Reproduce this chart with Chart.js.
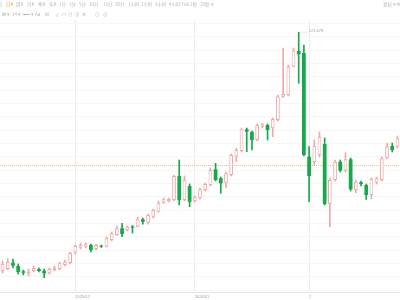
<!DOCTYPE html>
<html><head><meta charset="utf-8">
<script src="https://cdn.jsdelivr.net/npm/chart.js@4/dist/chart.umd.min.js"></script>
<style>
html,body{margin:0;padding:0;background:#fff;overflow:hidden}
#wrap{position:relative;width:400px;height:300px}
#c{position:absolute;left:0;top:0}
#bar{position:absolute;left:0;top:0;width:800px;height:40px;transform:scale(0.5);transform-origin:0 0;font-family:"Noto Sans CJK SC","Noto Sans",sans-serif;font-size:9px;color:#b8b8b8;white-space:nowrap}
#bar span{position:absolute;line-height:1}
</style></head>
<body><div id="wrap"><canvas id="c" width="400" height="300"></canvas><div id="bar"></div></div>
<script>
const dates = [
'2025-11-11','2025-11-12','2025-11-13','2025-11-14','2025-11-17','2025-11-18','2025-11-19','2025-11-20','2025-11-21','2025-11-24','2025-11-25','2025-11-26','2025-11-27','2025-11-28',
'2025-12-01','2025-12-02','2025-12-03','2025-12-04','2025-12-05','2025-12-08','2025-12-09','2025-12-10','2025-12-11','2025-12-12','2025-12-15','2025-12-16','2025-12-17','2025-12-18','2025-12-19','2025-12-22','2025-12-23','2025-12-24','2025-12-25','2025-12-26','2025-12-29','2025-12-30','2025-12-31',
'2026-01-01','2026-01-02','2026-01-05','2026-01-06','2026-01-07','2026-01-08','2026-01-09','2026-01-12','2026-01-13','2026-01-14','2026-01-15','2026-01-16','2026-01-19','2026-01-20','2026-01-21','2026-01-22','2026-01-23','2026-01-26','2026-01-27','2026-01-28','2026-01-29','2026-01-30',
'2026-02-02','2026-02-03','2026-02-04','2026-02-05','2026-02-06','2026-02-09','2026-02-10','2026-02-11','2026-02-12','2026-02-13','2026-02-16','2026-02-17','2026-02-18','2026-02-19','2026-02-20','2026-02-23','2026-02-24','2026-02-25'];
const open = [32.13,32.88,35.24,34.00,32.01,31.38,32.13,32.88,32.24,31.26,32.50,32.88,34.38,35.13,
39.06,40.86,41.01,41.88,40.38,41.61,41.24,43.75,45.63,48.14,47.50,48.74,48.74,51.51,50.24,52.49,54.36,57.74,58.26,58.75,67.75,58.75,64.00,
58.38,59.39,62.50,64.38,70.26,66.89,65.01,68.13,75.06,77.13,85.26,84.25,81.25,86.24,86.88,85.64,88.75,97.49,98.13,108.74,114.63,113.88,
74.99,73.00,75.63,79.75,57.25,66.25,73.11,69.74,74.01,62.50,65.39,64.38,60.63,65.24,66.25,74.39,79.00,78.74];
const high = [35.88,36.63,36.63,34.75,32.50,32.88,34.00,33.25,32.88,33.25,34.00,35.50,36.25,39.25,
41.88,42.63,42.63,42.25,42.25,41.88,44.88,46.75,49.00,50.01,49.00,49.19,52.38,52.00,53.50,55.38,58.38,59.50,59.50,68.13,73.75,67.75,64.75,
60.25,63.25,65.13,70.75,72.51,67.38,69.25,76.00,78.14,85.75,85.75,84.63,87.25,87.44,87.25,89.50,98.13,115.75,109.38,115.75,121.678,116.88,
78.74,81.25,84.25,82.00,67.00,73.75,73.75,76.49,74.50,66.25,65.88,64.75,67.00,67.38,74.88,80.13,80.13,82.75];
const low = [31.38,32.50,33.25,31.00,30.63,30.25,31.75,31.75,29.61,31.00,32.13,32.50,34.00,34.75,
38.50,40.38,40.75,39.25,40.00,40.94,41.13,43.38,45.44,44.99,47.13,46.38,48.63,49.64,49.64,52.00,54.25,57.44,58.00,58.38,56.88,58.38,56.24,
58.00,59.13,62.13,64.00,65.88,61.26,63.25,67.75,73.11,76.75,76.86,77.50,80.88,85.75,81.25,82.49,88.38,97.19,97.75,108.63,102.51,75.25,
58.11,71.88,74.88,56.88,48.63,65.88,69.25,69.25,62.13,61.38,64.00,58.94,59.13,64.75,65.88,74.13,76.75,78.25];
const close = [34.75,35.50,34.11,31.75,31.49,32.31,33.25,32.13,31.26,32.88,33.36,35.24,35.61,38.88,
41.50,41.88,42.14,40.00,41.88,41.24,44.39,46.26,48.14,46.00,48.74,48.36,51.51,50.61,53.13,55.00,57.74,59.01,59.13,67.75,58.75,66.25,58.11,
59.76,62.76,64.75,70.00,66.25,65.01,68.76,75.63,77.50,85.26,84.36,81.25,86.88,87.14,85.00,89.13,97.56,98.50,108.74,114.81,113.39,75.63,
67.75,79.00,82.38,57.25,66.25,73.11,69.74,74.01,62.76,65.61,64.75,60.63,66.63,66.89,74.39,78.74,77.50,81.89];
const tickIdx = [14, 37, 59];
const tickText = ['2025/12', '2026/01', '2'];
const gridVals = [25,30,35,40,45,50,55,60,65,70,75,80,85,90,95,100,105,110,115,120,125];
const refPrice = 71.8;
const yMin = 24.25, yMax = 126.25;

// toolbar
const row1 = [['分时',-7],['日K',6,'#f0a040'],['周K',16],['月K',27],['季K',38],['年K',49],['1分',59],['3分',69],['5分',79],['10分',89],['15分',103],['30分',115],['1小时',128],['2小时',141],['3小时',155],['4小时',169],['Tick',181],['1秒',190],['10秒 ▾',200],['复权 ▾',383],['⚙',396]];
const row2 = [['⊞ ▾',2],['14 ▾',12],['⟵ ▾',23],['Aa',35],['⊟',45],['∠',55],['⊓',62],['⊖',68],['⊕',75],['⊜',82],['⊙',95],['⊘',103]];
const bar = document.getElementById('bar');
function addRow(items, y){ items.forEach(it=>{ const s=document.createElement('span'); s.textContent=it[0]; s.style.left=(it[1]*2)+'px'; s.style.top=(y*2)+'px'; if(it[2]) s.style.color=it[2]; bar.appendChild(s); }); }
addRow(row1, 2.2); addRow(row2, 12.2);

const up = close.map((c,i)=> c >= open[i]);
const RED = '#f0a9a9', GREEN = '#17a84b';

const extras = {
  id:'extras',
  beforeDatasetsDraw(chart){
    const {ctx, chartArea:a, scales:{y}} = chart;
    const py = Math.round(y.getPixelForValue(refPrice))+0.5;
    ctx.save(); ctx.strokeStyle='#f4bf8c'; ctx.lineWidth=1; ctx.setLineDash([1,1]);
    ctx.beginPath(); ctx.moveTo(a.left,py); ctx.lineTo(a.right,py); ctx.stroke(); ctx.restore();
  },
  afterDatasetsDraw(chart){
    const {ctx, scales:{x,y}} = chart;
    let mi = 0; high.forEach((h,i)=>{ if(h>high[mi]) mi=i; });
    const px = x.getPixelForValue(mi), py = y.getPixelForValue(high[mi]);
    ctx.save();
    ctx.strokeStyle='#d6d6d6'; ctx.lineWidth=0.5; ctx.beginPath(); ctx.moveTo(px+2,py); ctx.lineTo(px+9,py); ctx.stroke();
    ctx.fillStyle='#a0a0a0'; ctx.font='4px "Liberation Sans"'; ctx.textBaseline='middle';
    ctx.fillText(String(high[mi]), px+10, py-1);
    ctx.restore();
  }
};

new Chart(document.getElementById('c'), {
  type:'bar',
  data:{ labels: dates, datasets:[
    { label:'wick', data: dates.map((d,i)=>[low[i],high[i]]), backgroundColor: up.map(u=>u?RED:GREEN),
      borderWidth:0, barThickness:1, grouped:false, order:2 },
    { label:'body', data: dates.map((d,i)=>[open[i],close[i]]), backgroundColor: up.map(u=>u?'#ffffff':GREEN),
      borderColor: up.map(u=>u?RED:GREEN), borderWidth: up.map(u=>u?1:0), borderSkipped:false,
      grouped:false, order:1, barPercentage:0.72, categoryPercentage:1 }
  ]},
  options:{
    responsive:false, animation:false,
    layout:{ padding:{ top:20, left:0, right:0, bottom:0 } },
    plugins:{ legend:{display:false}, tooltip:{enabled:false} },
    scales:{
      x:{ offset:true,
        grid:{ offset:false, drawTicks:false, color:(c)=> tickIdx.includes(c.index) ? '#ededed' : 'rgba(0,0,0,0)' },
        border:{ color:'#e4e4e4' },
        ticks:{ autoSkip:false, maxRotation:0, minRotation:0, align:'start', padding:2, color:'#a0a0a0',
          font:{ size:4, family:'Liberation Sans' },
          callback:(v,i)=>{ const k = tickIdx.indexOf(i); return k>=0 ? tickText[k] : ''; } },
        afterFit:(s)=>{ s.height = 8; } },
      y:{ position:'right', min:yMin, max:yMax,
        grid:{ color:'#f6f6f6', drawTicks:false }, border:{ display:false },
        ticks:{ display:false },
        afterBuildTicks:(s)=>{ s.ticks = gridVals.map(v=>({value:v})); },
        afterFit:(s)=>{ s.width = 0; } }
    }
  },
  plugins:[extras]
});
</script></body></html>
